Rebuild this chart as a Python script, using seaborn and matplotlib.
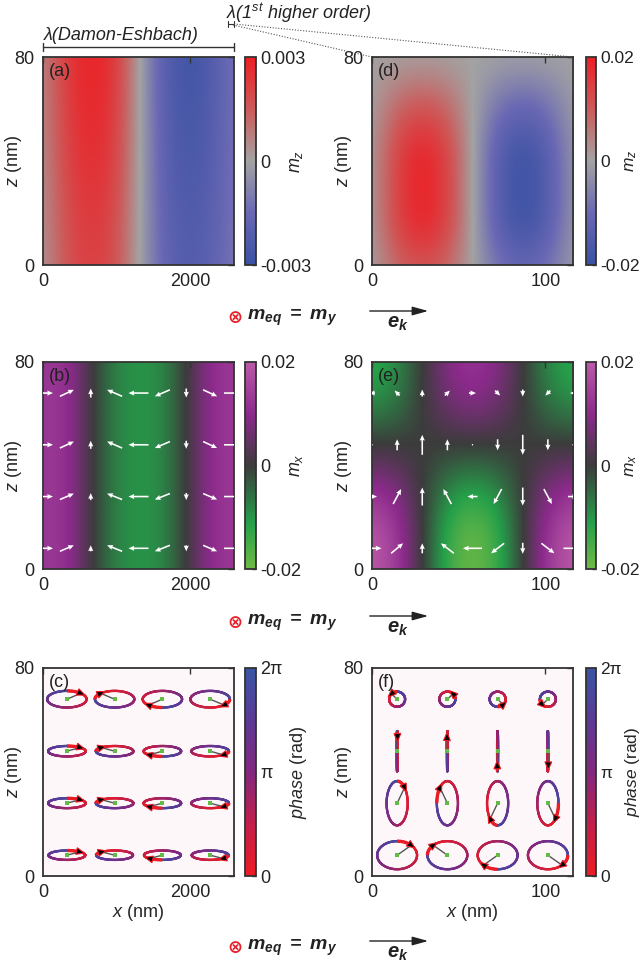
import numpy as np
import pandas as pd
import matplotlib
matplotlib.use("Agg")
import matplotlib.pyplot as plt
import seaborn as sns
from matplotlib.colors import LinearSegmentedColormap, Normalize
from matplotlib.collections import LineCollection
from matplotlib.patches import Polygon, FancyArrowPatch
from matplotlib.lines import Line2D

# ---------------- data ----------------
# Damon-Eshbach mode (panels a-c), x in nm
de_x = [0, 325, 650, 975, 1300, 1625, 1950, 2275, 2600]
de_z = [0, 40, 80]
de_mz = [
    [0.00030, 0.00165, 0.00216, 0.00180, 0.00006, -0.00165, -0.00225, -0.00195, -0.00105],
    [0.00045, 0.00210, 0.00270, 0.00225, 0.00015, -0.00195, -0.00255, -0.00225, -0.00120],
    [0.00060, 0.00240, 0.00300, 0.00255, 0.00015, -0.00210, -0.00285, -0.00240, -0.00120],
]
de_mx = [
    [0.0130, 0.0120, 0.0010, -0.0080, -0.0100, -0.0090, 0.0000, 0.0110, 0.0130],
    [0.0130, 0.0120, 0.0010, -0.0080, -0.0100, -0.0090, 0.0000, 0.0110, 0.0130],
    [0.0130, 0.0120, 0.0010, -0.0080, -0.0100, -0.0090, 0.0000, 0.0110, 0.0130],
]
# first higher-order mode (panels d-f), x in nm
hi_x = [0, 14.5, 29, 43.5, 58, 72.5, 87, 101.5, 116]
hi_z = [0, 10, 20, 30, 40, 50, 60, 70, 80]
hi_mz = [
    [0.0007, 0.0086, 0.0120, 0.0086, 0.0, -0.0086, -0.0120, -0.0086, -0.0013],
    [0.0009, 0.0122, 0.0170, 0.0122, 0.0, -0.0122, -0.0170, -0.0122, -0.0017],
    [0.0010, 0.0144, 0.0200, 0.0144, 0.0, -0.0144, -0.0200, -0.0144, -0.0020],
    [0.0010, 0.0144, 0.0200, 0.0144, 0.0, -0.0144, -0.0200, -0.0144, -0.0020],
    [0.0010, 0.0144, 0.0200, 0.0144, 0.0, -0.0144, -0.0200, -0.0144, -0.0020],
    [0.0009, 0.0122, 0.0170, 0.0122, 0.0, -0.0122, -0.0170, -0.0122, -0.0017],
    [0.0006, 0.0086, 0.0120, 0.0086, 0.0, -0.0086, -0.0120, -0.0086, -0.0012],
    [0.0003, 0.0043, 0.0060, 0.0043, 0.0, -0.0043, -0.0060, -0.0043, -0.0006],
    [0.0001, 0.0007, 0.0010, 0.0007, 0.0, -0.0007, -0.0010, -0.0007, -0.0001],
]
hi_mx = [
    [0.0200, 0.0140, 0.0, -0.0140, -0.0200, -0.0140, 0.0, 0.0140, 0.0200],
    [0.0200, 0.0140, 0.0, -0.0140, -0.0200, -0.0140, 0.0, 0.0140, 0.0200],
    [0.0170, 0.0119, 0.0, -0.0119, -0.0170, -0.0119, 0.0, 0.0119, 0.0170],
    [0.0120, 0.0084, 0.0, -0.0084, -0.0120, -0.0084, 0.0, 0.0084, 0.0120],
    [0.0050, 0.0035, 0.0, -0.0035, -0.0050, -0.0035, 0.0, 0.0035, 0.0050],
    [-0.0010, -0.0007, 0.0, 0.0007, 0.0010, 0.0007, 0.0, -0.0007, -0.0010],
    [-0.0070, -0.0049, 0.0, 0.0049, 0.0070, 0.0049, 0.0, -0.0049, -0.0070],
    [-0.0110, -0.0077, 0.0, 0.0077, 0.0110, 0.0077, 0.0, -0.0077, -0.0110],
    [-0.0130, -0.0091, 0.0, 0.0091, 0.0130, 0.0091, 0.0, -0.0091, -0.0130],
]
# in-plane arrows (m_x, m_z) at 4 depths
arrow_z = [8, 28, 48, 68]
de_arrow_mx = [
    [20, 14, 0, -15, -20, -15, 0, 14, 20],
    [20, 14, 0, -15, -20, -15, 0, 14, 20],
    [20, 14, 0, -15, -20, -15, 0, 14, 20],
    [20, 14, 0, -15, -20, -15, 0, 14, 20],
]
de_arrow_mz = [
    [0, 6, 6, 6, 0, -6, -6, -6, 0],
    [0, 6, 7, 6, 0, -6, -7, -6, 0],
    [0, 6.5, 8, 6.5, 0, -6.5, -8, -6.5, 0],
    [0, 6.5, 9, 6.5, 0, -6.5, -9, -6.5, 0],
]
hi_arrow_mx = [
    [19, 12, 0, -13, -19, -13, 0, 13, 19],
    [10, 8, 0, -8, -10, -8, 0, 8, 10],
    [0, 0, 0, 0, 0, 0, 0, 0, 0],
    [-6, -5, 0, 5, 7, 5, 0, -5, -6],
]
hi_arrow_mz = [
    [0, 10, 10, 10, 0, -10, -11, -10, 0],
    [0, 15, 18, 15, 0, -15, -18, -15, 0],
    [0, 11, 20, 11, 0, -11, -20, -11, 0],
    [0, 5, 7, 5, 0, -5, -7, -5, 0],
]
# precession orbits (semi-axes per depth, phase per column)
orbit_z = [8, 28, 48, 68]
orbit_phase_deg = [45, 135, 225, 315]
de_orbit_x = [325, 975, 1625, 2275]
de_orbit_ax = [250, 255, 255, 268]
de_orbit_az = [1.8, 1.9, 2.0, 3.2]
hi_orbit_x = [14.5, 43.5, 72.5, 101.5]
hi_orbit_ax = [11.5, 6.1, 0.3, -4.6]
hi_orbit_az = [5.4, 8.5, 7.7, 2.9]

# ---------------- style ----------------
sns.set_theme(style="white")
plt.rcParams["font.family"] = ["Liberation Sans", "DejaVu Sans"]
plt.rcParams["mathtext.fontset"] = "custom"
plt.rcParams["mathtext.rm"] = "Liberation Sans"
plt.rcParams["mathtext.it"] = "Liberation Sans:italic"
plt.rcParams["mathtext.bf"] = "Liberation Sans:bold:italic"
plt.rcParams["text.color"] = "#222222"

mz_cmap = LinearSegmentedColormap.from_list(
    "mz", [(0, "#3a51a3"), (0.25, "#6a68b4"), (0.5, "#a3a3a3"), (0.75, "#cd5a5a"), (1, "#ed1f25")])
mx_cmap = LinearSegmentedColormap.from_list(
    "mx", [(0, "#70ba46"), (0.22, "#25a04a"), (0.5, "#3c3c3c"), (0.75, "#8c2a8c"), (1, "#ba5aa8")])
phase_cmap = LinearSegmentedColormap.from_list(
    "ph", [(0, "#ed1c24"), (0.25, "#c21f4a"), (0.5, "#83287f"), (0.75, "#5b3a96"), (1, "#3955a4")])

W, H = 642, 963
fig = plt.figure(figsize=(W / 100, H / 100), dpi=100)
fig.patch.set_facecolor("white")


def rect(l, t, r, b):
    return [l / W, 1 - b / H, (r - l) / W, (b - t) / H]


cols = [(43, 234), (372, 573)]
cbars = [(245, 256), (586, 596)]
rows = [(57, 265), (362, 569), (668, 876)]
xticks = [[0, 2000], [0, 100]]
xlims = [(0, 2600), (0, 116)]
ylab_x = [-0.10, -0.09]
cblab_x = [3.9, 3.7]
cb_fs = [13, 12.5]


def style_axes(ax, c):
    ax.set_xlim(*xlims[c])
    ax.set_ylim(0, 80)
    ax.set_xticks(xticks[c])
    ax.set_yticks([0, 80])
    ax.tick_params(direction="in", length=4, width=1, top=True, right=True,
                   labelsize=13, pad=6, color="#333333", labelcolor="#222222")
    for s in ax.spines.values():
        s.set_visible(True)
        s.set_color("#333333")
        s.set_linewidth(1.3)
    ax.set_ylabel(r"$z$ (nm)", fontsize=13)
    ax.yaxis.set_label_coords(ylab_x[c], 0.5)
    ax.set_xlabel("")


def field(ax, xs, zs, vals, cmap, vmax):
    xs = np.asarray(xs, float)
    zs = np.asarray(zs, float)
    dx = xs[1] - xs[0]
    dz = zs[1] - zs[0]
    im = ax.imshow(np.asarray(vals), origin="lower", cmap=cmap, vmin=-vmax, vmax=vmax,
                   extent=(xs[0] - dx / 2, xs[-1] + dx / 2, zs[0] - dz / 2, zs[-1] + dz / 2),
                   aspect="auto", interpolation="bicubic", interpolation_stage="data")
    return im


def add_cbar(mappable, c, r, ticks, labels, label):
    cax = fig.add_axes(rect(cbars[c][0], rows[r][0], cbars[c][1], rows[r][1]))
    cb = fig.colorbar(mappable, cax=cax, ticks=ticks)
    cb.ax.set_yticklabels(labels)
    cb.ax.tick_params(direction="in", length=3, width=1, labelsize=cb_fs[c], pad=3,
                      color="#333333", labelcolor="#222222")
    cb.outline.set_linewidth(1.3)
    cb.outline.set_edgecolor("#333333")
    cb.set_label(label, fontsize=cb_fs[c])
    cb.ax.yaxis.set_label_coords(cblab_x[c], 0.5)
    return cb


def panel_label(ax, s):
    ax.text(0.03, 0.972, s, transform=ax.transAxes, ha="left", va="top", fontsize=13,
            color="#222222", zorder=10)


def quiver(ax, xs, U, V):
    X, Z = np.meshgrid(xs, arrow_z)
    ax.quiver(X, Z, np.asarray(U, float), np.asarray(V, float), color="white",
              angles="uv", scale_units="inches", scale=100, pivot="middle",
              units="inches", width=0.016, headwidth=3.2, headlength=3.6,
              headaxislength=3.3, zorder=4)


def orbits(ax, cx, cz, amp_x, amp_z, phases):
    T = ax.transData
    Ti = T.inverted()
    norm = Normalize(0, 2 * np.pi)
    s = np.linspace(0, 2 * np.pi, 241)
    for j, z0 in enumerate(cz):
        for i, x0 in enumerate(cx):
            ph = np.deg2rad(phases[i])
            th = ph - s
            X = x0 + amp_x[j] * np.cos(th)
            Z = z0 + amp_z[j] * np.sin(th)
            pts = np.column_stack([X, Z])
            segs = np.stack([pts[:-1], pts[1:]], axis=1)
            lc = LineCollection(segs, cmap=phase_cmap, norm=norm, linewidths=1.7, zorder=3)
            lc.set_array(0.5 * (s[:-1] + s[1:]))
            lc.set_capstyle("round")
            ax.add_collection(lc)
            thb = ph + np.linspace(0, np.deg2rad(45), 30)
            ax.plot(x0 + amp_x[j] * np.cos(thb), z0 + amp_z[j] * np.sin(thb),
                    color="#ec1c24", lw=2.4, zorder=4, solid_capstyle="butt")
            tip = np.array([x0 + amp_x[j] * np.cos(ph), z0 + amp_z[j] * np.sin(ph)])
            ax.plot([x0, tip[0]], [z0, tip[1]], color="#555555", lw=1.0, zorder=5)
            vel = np.array([amp_x[j] * np.sin(ph), -amp_z[j] * np.cos(ph)])
            p0 = T.transform(tip)
            p1 = T.transform(tip + vel * 1e-3)
            d = p1 - p0
            d = d / np.hypot(*d)
            n = np.array([-d[1], d[0]])
            apex = p0 + d * 4.5
            b1 = p0 - d * 3.5 + n * 3.4
            b2 = p0 - d * 3.5 - n * 3.4
            poly = Polygon(Ti.transform(np.array([apex, b1, b2])), closed=True,
                           fc="black", ec="#ec1c24", lw=0.8, zorder=7)
            ax.add_patch(poly)
    Xc, Zc = np.meshgrid(cx, cz)
    centers = pd.DataFrame({"x": Xc.ravel(), "z": Zc.ravel()})
    sns.scatterplot(data=centers, x="x", y="z", ax=ax, color="#62bb46", s=10,
                    marker="s", linewidth=0, zorder=6)


# ---------------- row 1: m_z ----------------
ax_a = fig.add_axes(rect(cols[0][0], rows[0][0], cols[0][1], rows[0][1]))
im_a = field(ax_a, de_x, de_z, de_mz, mz_cmap, 0.003)
style_axes(ax_a, 0)
panel_label(ax_a, "(a)")
add_cbar(im_a, 0, 0, [-0.003, 0, 0.003], ["-0.003", "0", "0.003"], r"$m_z$")

ax_d = fig.add_axes(rect(cols[1][0], rows[0][0], cols[1][1], rows[0][1]))
im_d = field(ax_d, hi_x, hi_z, hi_mz, mz_cmap, 0.02)
style_axes(ax_d, 1)
panel_label(ax_d, "(d)")
add_cbar(im_d, 1, 0, [-0.02, 0, 0.02], ["-0.02", "0", "0.02"], r"$m_z$")

# ---------------- row 2: m_x with arrows ----------------
ax_b = fig.add_axes(rect(cols[0][0], rows[1][0], cols[0][1], rows[1][1]))
im_b = field(ax_b, de_x, de_z, de_mx, mx_cmap, 0.02)
style_axes(ax_b, 0)
quiver(ax_b, de_x, de_arrow_mx, de_arrow_mz)
ax_b.set_xlim(*xlims[0]); ax_b.set_ylim(0, 80)
panel_label(ax_b, "(b)")
add_cbar(im_b, 0, 1, [-0.02, 0, 0.02], ["-0.02", "0", "0.02"], r"$m_x$")

ax_e = fig.add_axes(rect(cols[1][0], rows[1][0], cols[1][1], rows[1][1]))
im_e = field(ax_e, hi_x, hi_z, hi_mx, mx_cmap, 0.02)
style_axes(ax_e, 1)
quiver(ax_e, hi_x, hi_arrow_mx, hi_arrow_mz)
ax_e.set_xlim(*xlims[1]); ax_e.set_ylim(0, 80)
panel_label(ax_e, "(e)")
add_cbar(im_e, 1, 1, [-0.02, 0, 0.02], ["-0.02", "0", "0.02"], r"$m_x$")

# ---------------- row 3: precession orbits ----------------
ph_sm = plt.cm.ScalarMappable(norm=Normalize(0, 2 * np.pi), cmap=phase_cmap)
for c, (label, ox, oax, oaz) in enumerate([("(c)", de_orbit_x, de_orbit_ax, de_orbit_az),
                                           ("(f)", hi_orbit_x, hi_orbit_ax, hi_orbit_az)]):
    ax = fig.add_axes(rect(cols[c][0], rows[2][0], cols[c][1], rows[2][1]))
    ax.set_facecolor("#fdf7fa")
    style_axes(ax, c)
    orbits(ax, ox, orbit_z, oax, oaz, orbit_phase_deg)
    style_axes(ax, c)
    ax.set_xlabel(r"$x$ (nm)", fontsize=13)
    ax.xaxis.set_label_coords(0.5, -0.125)
    panel_label(ax, label)
    add_cbar(ph_sm, c, 2, [0, np.pi, 2 * np.pi], ["0", "π", "2π"], r"$\mathit{phase}$ (rad)")


# ---------------- figure-level annotations ----------------
def fx(px):
    return px / W


def fy(py):
    return 1 - py / H


def fline(xs, ys, **kw):
    fig.add_artist(Line2D([fx(x) for x in xs], [fy(y) for y in ys],
                          transform=fig.transFigure, **kw))


# wavelength brackets
fline([43, 234], [47, 47], color="#333333", lw=1.0)
fline([43, 43], [43, 51], color="#333333", lw=1.0)
fline([234, 234], [43, 51], color="#333333", lw=1.0)
fig.text(fx(44), fy(35), "λ(Damon-Eshbach)", fontsize=13, style="italic",
         ha="left", va="center", color="#222222")
fline([228, 234], [24, 24], color="#333333", lw=0.8)
fline([228, 228], [21, 27], color="#333333", lw=0.8)
fline([234, 234], [21, 27], color="#333333", lw=0.8)
fig.text(fx(226), fy(13), r"λ(1$^{st}$ higher order)", fontsize=13, style="italic",
         ha="left", va="center", color="#222222")
fline([234, 573], [24, 57], color="#555555", lw=0.8, ls=(0, (1, 1.5)))
fline([233, 372], [25, 57], color="#555555", lw=0.8, ls=(0, (1, 1.5)))

# equilibrium direction and wave vector legends
for yrow in [318, 623, 948]:
    fig.text(fx(235), fy(yrow), "⊗", color="#e8202a", fontsize=13, fontweight="bold",
             ha="center", va="center", family=["DejaVu Sans"])
    fig.text(fx(247), fy(yrow), r"$\mathbf{m_{eq}\ =\ m_y}$", fontsize=14,
             ha="left", va="center", color="#222222")
    fig.add_artist(FancyArrowPatch((fx(367), fy(yrow - 7)), (fx(431), fy(yrow - 7)),
                                   transform=fig.transFigure,
                                   arrowstyle="-|>,head_length=0.8,head_width=0.22",
                                   mutation_scale=12, lw=1.0, color="#222222"))
    fig.text(fx(398), fy(yrow + 5), r"$\mathbf{e_k}$", fontsize=14.5,
             ha="center", va="center", color="#222222")

fig.savefig("out.png", dpi=100)
